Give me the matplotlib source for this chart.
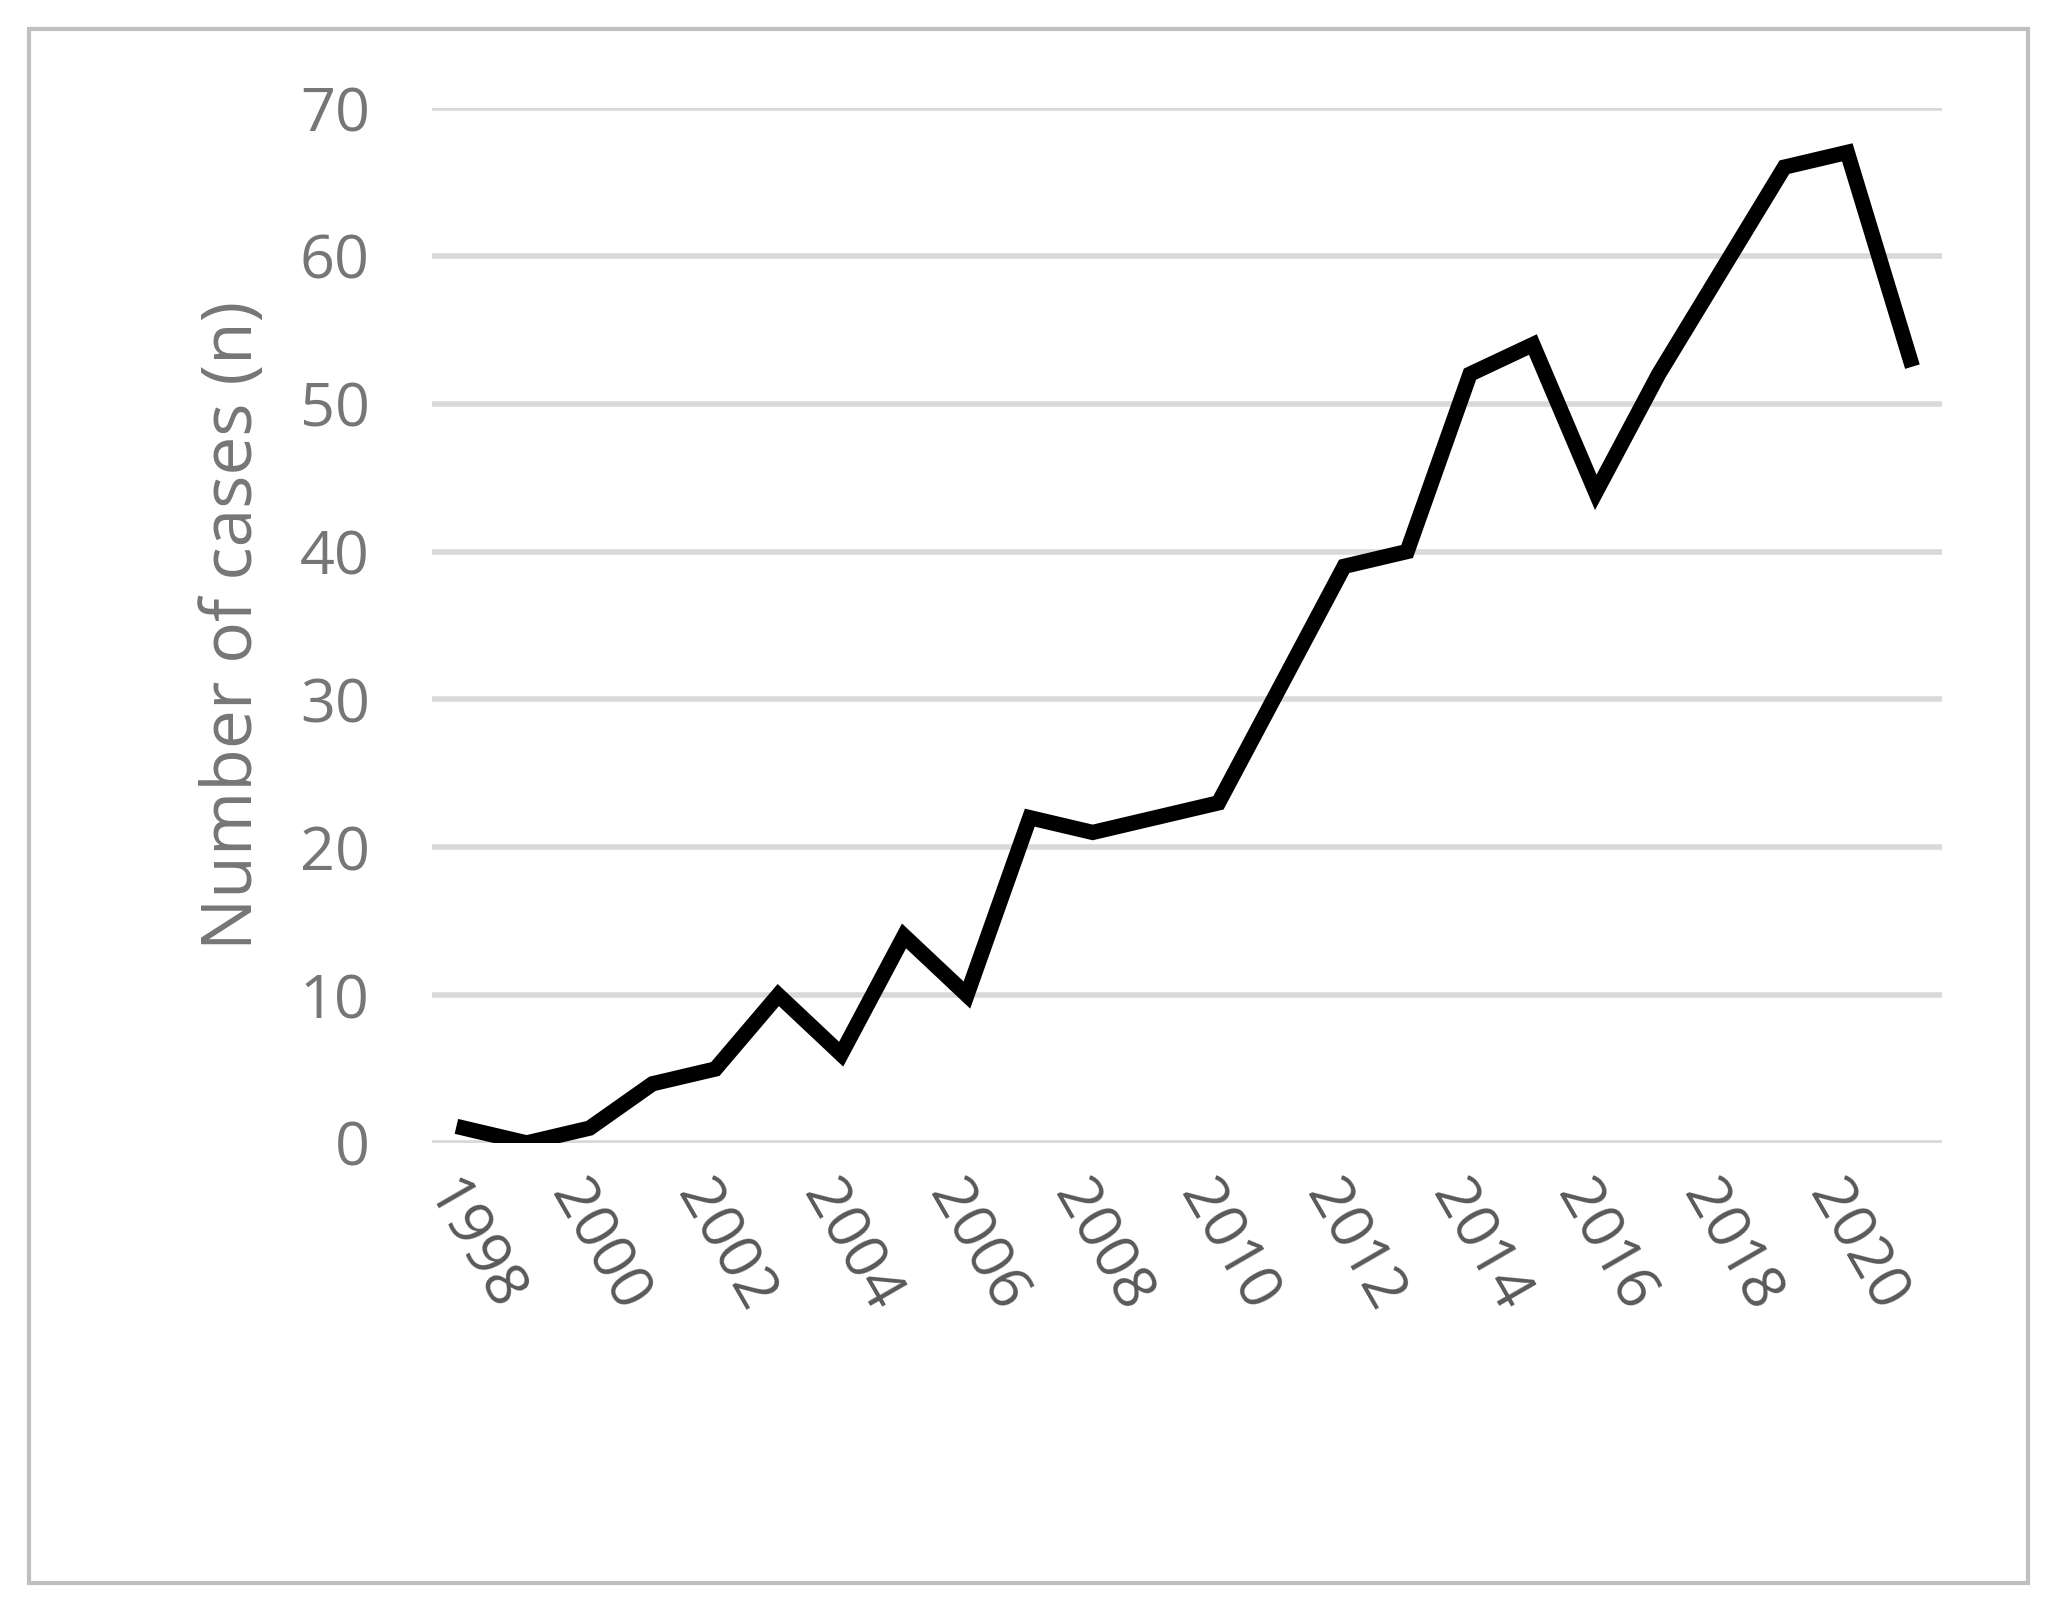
import matplotlib
matplotlib.use("Agg")
import matplotlib.pyplot as plt
from matplotlib.patches import Rectangle

years = list(range(1998, 2022))
cases = [1, 0, 1, 4, 5, 10, 6, 14, 10, 22, 21, 22, 23, 31, 39, 40, 52, 54, 44, 52, 59, 66, 67, 53]
tick_years = list(range(1998, 2021, 2))
y_ticks = list(range(0, 71, 10))

plt.rcParams['font.family'] = ['Open Sans', 'DejaVu Sans']
fig = plt.figure(figsize=(20.59, 16.12), dpi=100)
ax = fig.add_axes([0.21, 0.291, 0.733, 0.642])
ax.plot(years, cases, color='black', lw=11, solid_joinstyle='miter')
ax.set_xlim(1997.5, 2021.5)
ax.set_ylim(0, 70)
ax.set_yticks(y_ticks)
ax.set_xticks(tick_years)
ax.set_xticklabels([str(y) for y in tick_years], rotation=-60, ha='left', va='top',
                   rotation_mode='anchor', fontsize=44, color='#595959')
ax.tick_params(axis='y', labelsize=44, labelcolor='#767676', length=0, pad=45)
ax.tick_params(axis='x', length=0, pad=20)
ax.grid(axis='y', color='#d9d9d9', lw=4)
ax.set_axisbelow(True)
for s in ax.spines.values():
    s.set_visible(False)
ax.set_ylabel('Number of cases (n)', fontsize=50, color='#767676', labelpad=22)
fig.patches.append(Rectangle((0.014, 0.018), 0.971, 0.964, transform=fig.transFigure,
                             fill=False, edgecolor='#bfbfbf', lw=3))
fig.savefig('out.png', dpi=100)
